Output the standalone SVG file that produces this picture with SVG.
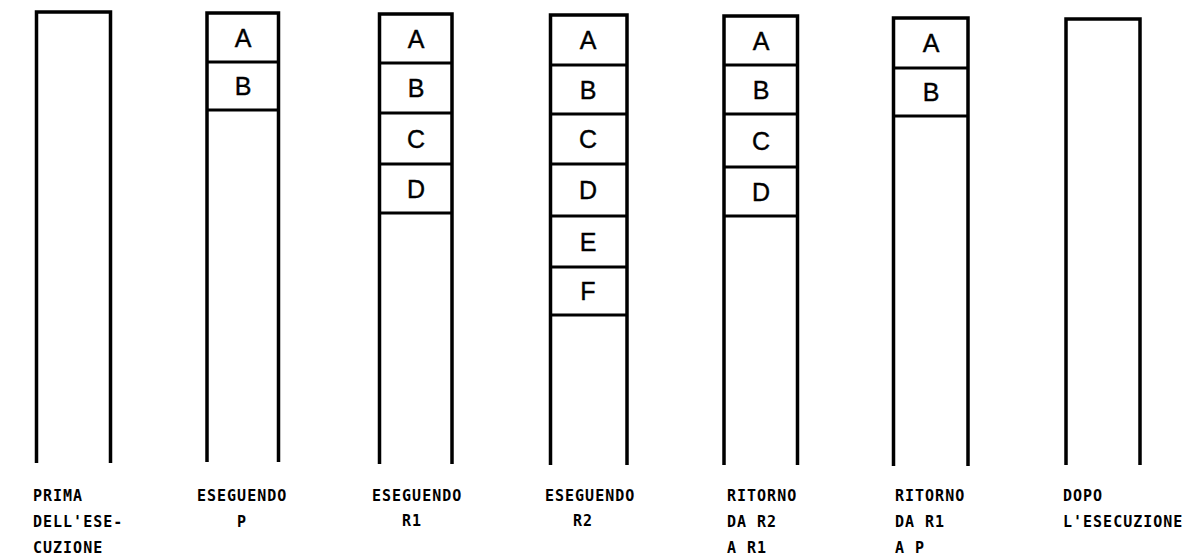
<svg xmlns="http://www.w3.org/2000/svg" width="1193" height="557" viewBox="0 0 1193 557">
<style>
.col{fill:none;stroke:#000;stroke-width:3.5;stroke-linejoin:miter}
.div{stroke:#000;stroke-width:3}
.box{font-family:"Liberation Sans",Arial,sans-serif;font-size:25px;text-anchor:middle;fill:#000;stroke:#000;stroke-width:0.4}
.lbl{font-family:"DejaVu Sans Mono","Liberation Mono",monospace;font-size:15px;font-weight:bold;letter-spacing:1px;fill:#000}
</style>
<rect width="1193" height="557" fill="#fff"/>
<g id="col1">
<path class="col" d="M36.5,463 V12 H110.5 V463"/>
<text class="lbl" x="33" y="501">PRIMA</text>
<text class="lbl" x="33" y="527">DELL'ESE-</text>
<text class="lbl" x="33" y="553">CUZIONE</text>
</g>
<g id="col2">
<path class="col" d="M207,462 V13 H278.5 V462"/>
<line class="div" x1="207" y1="62" x2="278.5" y2="62"/>
<line class="div" x1="207" y1="110" x2="278.5" y2="110"/>
<text class="box" x="243" y="47">A</text>
<text class="box" x="243" y="95">B</text>
<text class="lbl" x="197" y="501">ESEGUENDO</text>
<text class="lbl" x="237" y="527">P</text>
</g>
<g id="col3">
<path class="col" d="M379.5,464 V14 H452 V464"/>
<line class="div" x1="379.5" y1="63" x2="452" y2="63"/>
<line class="div" x1="379.5" y1="113" x2="452" y2="113"/>
<line class="div" x1="379.5" y1="164" x2="452" y2="164"/>
<line class="div" x1="379.5" y1="213" x2="452" y2="213"/>
<text class="box" x="416" y="47.5">A</text>
<text class="box" x="416" y="97">B</text>
<text class="box" x="416" y="147.5">C</text>
<text class="box" x="416" y="197.5">D</text>
<text class="lbl" x="372" y="501">ESEGUENDO</text>
<text class="lbl" x="402" y="526">R1</text>
</g>
<g id="col4">
<path class="col" d="M550.5,465 V15 H627 V465"/>
<line class="div" x1="550.5" y1="65" x2="627" y2="65"/>
<line class="div" x1="550.5" y1="114" x2="627" y2="114"/>
<line class="div" x1="550.5" y1="164" x2="627" y2="164"/>
<line class="div" x1="550.5" y1="216" x2="627" y2="216"/>
<line class="div" x1="550.5" y1="267" x2="627" y2="267"/>
<line class="div" x1="550.5" y1="315" x2="627" y2="315"/>
<text class="box" x="588" y="49">A</text>
<text class="box" x="588" y="98.5">B</text>
<text class="box" x="588" y="148">C</text>
<text class="box" x="588" y="199">D</text>
<text class="box" x="588" y="250.5">E</text>
<text class="box" x="588" y="300">F</text>
<text class="lbl" x="545" y="501">ESEGUENDO</text>
<text class="lbl" x="573" y="526">R2</text>
</g>
<g id="col5">
<path class="col" d="M724,465 V16 H797.5 V465"/>
<line class="div" x1="724" y1="65" x2="797.5" y2="65"/>
<line class="div" x1="724" y1="114" x2="797.5" y2="114"/>
<line class="div" x1="724" y1="167" x2="797.5" y2="167"/>
<line class="div" x1="724" y1="216" x2="797.5" y2="216"/>
<text class="box" x="761" y="49.5">A</text>
<text class="box" x="761" y="98.5">B</text>
<text class="box" x="761" y="149.5">C</text>
<text class="box" x="761" y="200.5">D</text>
<text class="lbl" x="727" y="501">RITORNO</text>
<text class="lbl" x="727" y="527">DA R2</text>
<text class="lbl" x="727" y="553">A R1</text>
</g>
<g id="col6">
<path class="col" d="M893.5,466 V18 H968 V466"/>
<line class="div" x1="893.5" y1="68" x2="968" y2="68"/>
<line class="div" x1="893.5" y1="116" x2="968" y2="116"/>
<text class="box" x="931" y="52">A</text>
<text class="box" x="931" y="101">B</text>
<text class="lbl" x="895" y="501">RITORNO</text>
<text class="lbl" x="895" y="527">DA R1</text>
<text class="lbl" x="895" y="553">A P</text>
</g>
<g id="col7">
<path class="col" d="M1066,465 V19 H1140 V465"/>
<text class="lbl" x="1063" y="501">DOPO</text>
<text class="lbl" x="1063" y="527">L'ESECUZIONE</text>
</g>
<g id="connectors"></g>
</svg>
